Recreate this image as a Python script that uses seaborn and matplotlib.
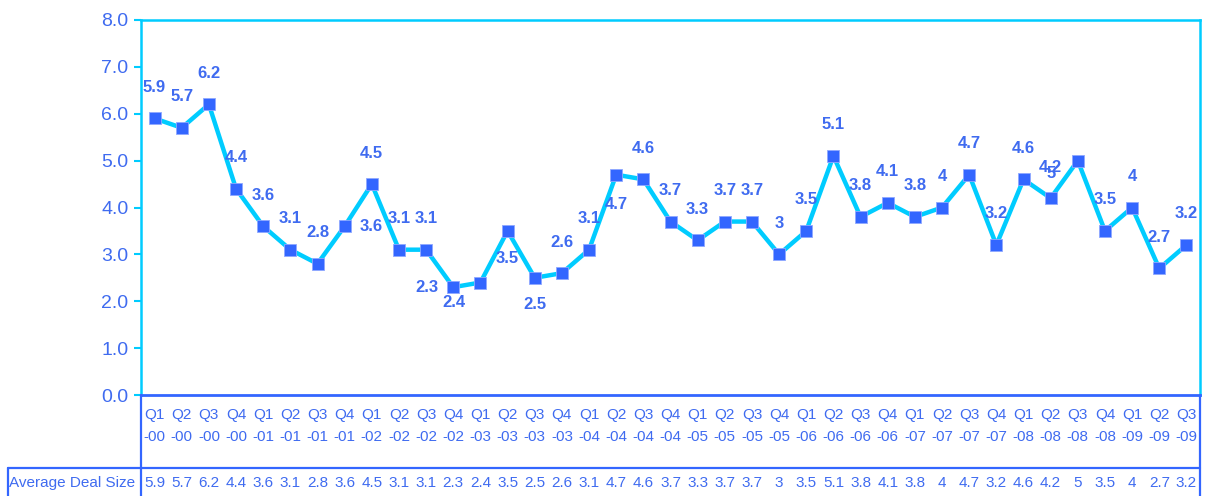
import numpy as np
import pandas as pd
import seaborn as sns
import matplotlib.pyplot as plt
from matplotlib.lines import Line2D

quarters = ["Q1", "Q2", "Q3", "Q4"]
years = ["00", "01", "02", "03", "04", "05", "06", "07", "08", "09"]
periods = [f"{q}\n-{y}" for y in years for q in quarters][:39]

deal_size = [5.9, 5.7, 6.2, 4.4, 3.6, 3.1, 2.8, 3.6, 4.5, 3.1,
             3.1, 2.3, 2.4, 3.5, 2.5, 2.6, 3.1, 4.7, 4.6, 3.7,
             3.3, 3.7, 3.7, 3.0, 3.5, 5.1, 3.8, 4.1, 3.8, 4.0,
             4.7, 3.2, 4.6, 4.2, 5.0, 3.5, 4.0, 2.7, 3.2]

row_name = "Average Deal Size"

# where Excel put some of the value labels (pixel offsets), default is above
label_shift = {7: (27, 0), 11: (-26, 0), 12: (-26, -20), 13: (0, -28),
               14: (0, -27), 17: (0, -30), 34: (-27, -13)}

LINE = "#00CCFF"
BLUE = "#3366FF"
TEXT = "#3F6BF0"

sns.set_style("white")
plt.rcParams["font.family"] = ["Liberation Sans", "DejaVu Sans"]

W, H = 1207, 496
fig = plt.figure(figsize=(W / 100, H / 100), dpi=100)
ax = fig.add_axes([141 / W, 1 - 395 / H, (1200 - 141) / W, (395 - 20) / H])

df = pd.DataFrame({"pos": np.arange(len(deal_size)), "value": deal_size})
sns.lineplot(data=df, x="pos", y="value", ax=ax, color=LINE, linewidth=3.2,
             marker="s", markersize=9, markerfacecolor=BLUE,
             markeredgecolor="#8FA8FF", markeredgewidth=0.6)

for i, v in enumerate(deal_size):
    dx, dy = label_shift.get(i, (0, 31))
    ax.annotate(f"{v:g}", (i, v), xytext=(dx, dy), textcoords="offset pixels",
                ha="center", va="center", fontsize=12, fontweight="bold",
                color=TEXT)

ax.set_xlim(-0.5, len(deal_size) - 0.5)
ax.set_ylim(0, 8)
ax.set_yticks(np.arange(0, 9, 1))
ax.set_yticklabels([f"{t:.1f}" for t in np.arange(0, 9, 1)])
ax.tick_params(axis="y", length=5, width=1.5, color=LINE, labelcolor=TEXT,
               labelsize=14, pad=4, left=True, direction="out")
ax.set_xticks(np.arange(len(periods)))
ax.set_xticklabels(periods, linespacing=1.75)
ax.tick_params(axis="x", length=0, labelcolor=TEXT, labelsize=11, pad=9)
ax.set_xlabel("")
ax.set_ylabel("")

for side in ["left", "top", "right"]:
    ax.spines[side].set_color(LINE)
    ax.spines[side].set_linewidth(1.8)
ax.spines["bottom"].set_color(BLUE)
ax.spines["bottom"].set_linewidth(2)

# data table under the chart
trans = ax.get_xaxis_transform()
row_y = (395 - 483) / 375
for i, v in enumerate(deal_size):
    ax.text(i, row_y, f"{v:g}", transform=trans, ha="center", va="center",
            fontsize=11, color=TEXT, clip_on=False)
fig.text(72 / W, 1 - 483 / H, row_name, ha="center", va="center",
         fontsize=11, color=TEXT)


def px_line(x0, y0, x1, y1):
    fig.add_artist(Line2D([x0 / W, x1 / W], [1 - y0 / H, 1 - y1 / H],
                          transform=fig.transFigure, color=BLUE, linewidth=1.6))


px_line(8, 468, 1200, 468)
px_line(8, 468, 8, 496)
px_line(141, 395, 141, 496)
px_line(1200, 395, 1200, 496)

fig.savefig("out.png", dpi=100)
